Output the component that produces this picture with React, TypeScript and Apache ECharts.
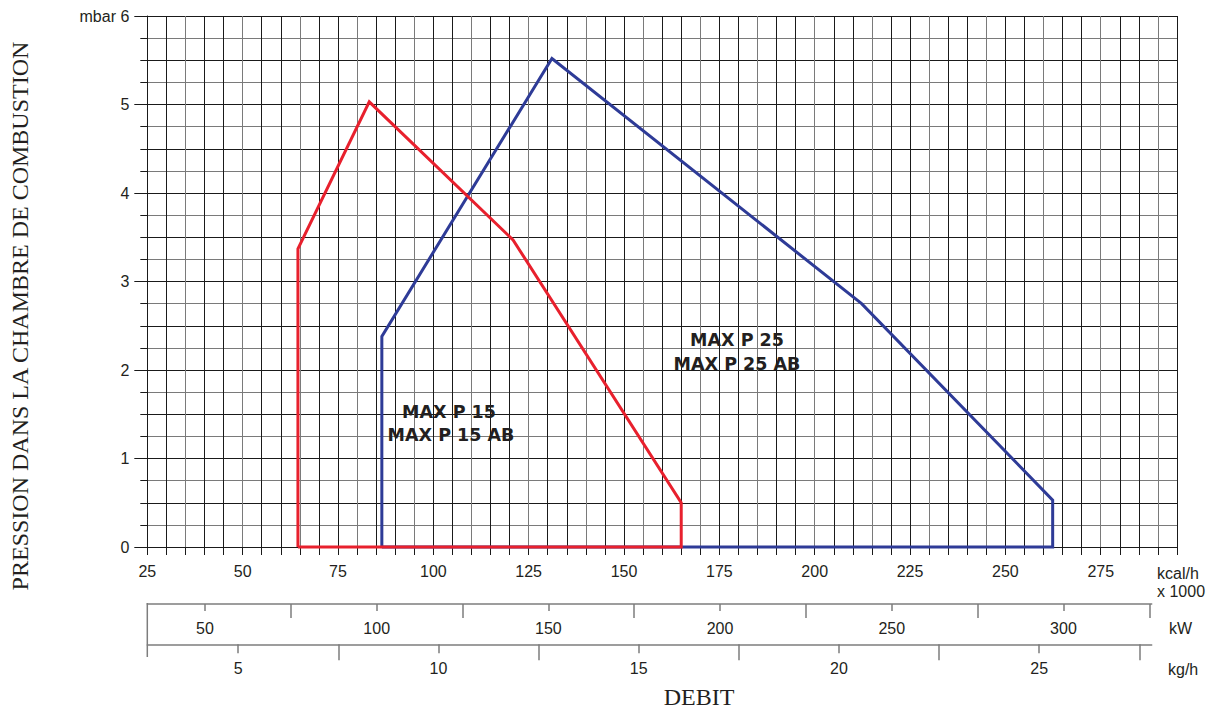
import React, { useEffect, useRef } from "react";
import * as echarts from "echarts";

// ---- data ----
const kcalLabels = [25, 50, 75, 100, 125, 150, 175, 200, 225, 250, 275];
const mbarLabels = [0, 1, 2, 3, 4, 5, 6];
const kwLabels = [50, 100, 150, 200, 250, 300];
const kwMidTicks = [75, 125, 175, 225, 275, 325];
const kghLabels = [5, 10, 15, 20, 25];
const kghMidTicks = [7.5, 12.5, 17.5, 22.5, 27.5];

// MAX P 15 / MAX P 15 AB working field (kcal/h x1000, mbar)
const p15Kcal = [64.5, 64.5, 83.2, 120.9, 165, 165, 64.5];
const p15Mbar = [0, 3.37, 5.03, 3.47, 0.5, 0, 0];
// MAX P 25 / MAX P 25 AB working field
const p25Kcal = [86.5, 86.5, 131.1, 212.3, 262.4, 262.4, 86.5];
const p25Mbar = [0, 2.38, 5.52, 2.75, 0.53, 0, 0];

const TXT = "#231f20";
const SANS = "Liberation Sans, Arial, sans-serif";
const SERIF = "Liberation Serif, Times New Roman, serif";

const zip = (a: number[], b: number[]) => a.map((v, i) => [v, b[i]]);

export default function App() {
  const ref = useRef<HTMLDivElement>(null);
  useEffect(() => {
    if (!ref.current) return;
    const chart = echarts.init(ref.current, null, { renderer: "svg" });
    const gl = 147.3;
    const bottomW = 1004.4;
    const grey = "#7d7d7d";
    const option: any = {
      animation: false,
      backgroundColor: "#ffffff",
      grid: [
        { left: gl, top: 16, width: 1029.7, height: 531 },
        { left: gl, top: 603, width: bottomW, height: 1 },
        { left: gl, top: 643.3, width: bottomW, height: 1 },
      ],
      xAxis: [
        {
          gridIndex: 0,
          type: "value",
          position: "bottom",
          min: 25,
          max: 295,
          interval: 5,
          axisLine: { show: true, onZero: false, lineStyle: { color: "#1a1a1a", width: 1 } },
          axisTick: { show: true, length: 8, lineStyle: { color: "#1a1a1a" } },
          axisLabel: {
            customValues: kcalLabels,
            margin: 16,
            fontSize: 16,
            color: TXT,
            fontFamily: SANS,
          },
          splitLine: { show: true, lineStyle: { color: ["#1a1a1a", "#1a1a1a", "#7a7a7a"], width: 1 } },
        },
        {
          gridIndex: 1,
          type: "value",
          position: "bottom",
          min: 33.2,
          max: 325.7,
          axisLine: { show: true, onZero: false, lineStyle: { color: grey, width: 1.5 } },
          axisTick: { show: true, customValues: kwLabels, length: 7, lineStyle: { color: grey, width: 1.5 } },
          axisLabel: { customValues: kwLabels, margin: 16, fontSize: 16, color: TXT, fontFamily: SANS },
          splitLine: { show: false },
        },
        {
          gridIndex: 1,
          type: "value",
          position: "bottom",
          min: 33.2,
          max: 325.7,
          axisLine: { show: false, onZero: false },
          axisTick: { show: true, customValues: kwMidTicks, length: 14, lineStyle: { color: grey, width: 1.5 } },
          axisLabel: { show: false },
          splitLine: { show: false },
        },
        {
          gridIndex: 2,
          type: "value",
          position: "bottom",
          min: 2.73,
          max: 27.81,
          axisLine: { show: true, onZero: false, lineStyle: { color: grey, width: 1.5 } },
          axisTick: { show: true, customValues: kghLabels, length: 9, lineStyle: { color: grey, width: 1.5 } },
          axisLabel: { customValues: kghLabels, margin: 16, fontSize: 16, color: TXT, fontFamily: SANS },
          splitLine: { show: false },
        },
        {
          gridIndex: 2,
          type: "value",
          position: "bottom",
          min: 2.73,
          max: 27.81,
          axisLine: { show: false, onZero: false },
          axisTick: { show: true, customValues: kghMidTicks, length: 16, lineStyle: { color: grey, width: 1.5 } },
          axisLabel: { show: false },
          splitLine: { show: false },
        },
      ],
      yAxis: [
        {
          gridIndex: 0,
          type: "value",
          position: "left",
          min: 0,
          max: 6,
          interval: 0.25,
          axisLine: { show: true, onZero: false, lineStyle: { color: "#1a1a1a" } },
          axisTick: { show: true, length: 7, lineStyle: { color: "#1a1a1a" } },
          axisLabel: {
            customValues: mbarLabels,
            formatter: (v: number) => (v === 6 ? "mbar 6" : String(v)),
            margin: 18,
            fontSize: 16,
            color: TXT,
            fontFamily: SANS,
          },
          splitLine: { show: true, lineStyle: { color: ["#1a1a1a", "#7a7a7a"], width: 1 } },
        },
        {
          gridIndex: 0,
          type: "value",
          position: "left",
          min: 0,
          max: 6,
          interval: 1,
          axisLine: { show: false, onZero: false },
          axisTick: { show: true, length: 13, lineStyle: { color: "#1a1a1a" } },
          axisLabel: { show: false },
          splitLine: { show: false },
        },
        { gridIndex: 1, type: "value", show: false },
        { gridIndex: 2, type: "value", show: false },
      ],
      series: [
        {
          type: "line",
          name: "MAX P 25",
          xAxisIndex: 0,
          yAxisIndex: 0,
          data: zip(p25Kcal, p25Mbar),
          symbol: "none",
          clip: false,
          z: 5,
          lineStyle: { color: "#2e3b97", width: 3, join: "miter" },
        },
        {
          type: "line",
          name: "MAX P 15",
          xAxisIndex: 0,
          yAxisIndex: 0,
          data: zip(p15Kcal, p15Mbar),
          symbol: "none",
          clip: false,
          z: 6,
          lineStyle: { color: "#e8202d", width: 3, join: "miter" },
        },
      ],
      graphic: [
        {
          type: "line",
          shape: { x1: gl, y1: 603, x2: gl, y2: 657 },
          style: { stroke: grey, lineWidth: 1.5 },
        },
        {
          type: "text",
          x: 20,
          y: 316,
          rotation: Math.PI / 2,
          style: {
            text: "PRESSION DANS LA CHAMBRE DE COMBUSTION",
            fontFamily: SERIF,
            fontSize: 24,
            fill: TXT,
            textAlign: "center",
            textVerticalAlign: "middle",
          },
        },
        {
          type: "text",
          x: 699,
          y: 697,
          style: { text: "DEBIT", fontFamily: SERIF, fontSize: 24, fill: TXT, textAlign: "center", textVerticalAlign: "middle" },
        },
        {
          type: "text",
          x: 1157,
          y: 573,
          style: { text: "kcal/h", fontFamily: SANS, fontSize: 16, fill: TXT, textAlign: "left", textVerticalAlign: "middle" },
        },
        {
          type: "text",
          x: 1157,
          y: 591,
          style: { text: "x 1000", fontFamily: SANS, fontSize: 16, fill: TXT, textAlign: "left", textVerticalAlign: "middle" },
        },
        {
          type: "text",
          x: 1169,
          y: 628,
          style: { text: "kW", fontFamily: SANS, fontSize: 16, fill: TXT, textAlign: "left", textVerticalAlign: "middle" },
        },
        {
          type: "text",
          x: 1168,
          y: 669,
          style: { text: "kg/h", fontFamily: SANS, fontSize: 16, fill: TXT, textAlign: "left", textVerticalAlign: "middle" },
        },
        {
          type: "text",
          x: 449,
          y: 412,
          z: 10,
          style: { text: "MAX P 15", fontFamily: "DejaVu Sans", fontWeight: "bold", fontSize: 17.5, fill: TXT, textAlign: "center", textVerticalAlign: "middle" },
        },
        {
          type: "text",
          x: 451,
          y: 435,
          z: 10,
          style: { text: "MAX P 15 AB", fontFamily: "DejaVu Sans", fontWeight: "bold", fontSize: 17.5, fill: TXT, textAlign: "center", textVerticalAlign: "middle" },
        },
        {
          type: "text",
          x: 737,
          y: 340,
          z: 10,
          style: { text: "MAX P 25", fontFamily: "DejaVu Sans", fontWeight: "bold", fontSize: 17.5, fill: TXT, textAlign: "center", textVerticalAlign: "middle" },
        },
        {
          type: "text",
          x: 737,
          y: 364,
          z: 10,
          style: { text: "MAX P 25 AB", fontFamily: "DejaVu Sans", fontWeight: "bold", fontSize: 17.5, fill: TXT, textAlign: "center", textVerticalAlign: "middle" },
        },
      ],
    };
    chart.setOption(option);
    return () => chart.dispose();
  }, []);
  return (
    <div
      ref={ref}
      style={{ position: "fixed", left: 0, top: 0, width: 1207, height: 712, background: "#fff" }}
    />
  );
}
